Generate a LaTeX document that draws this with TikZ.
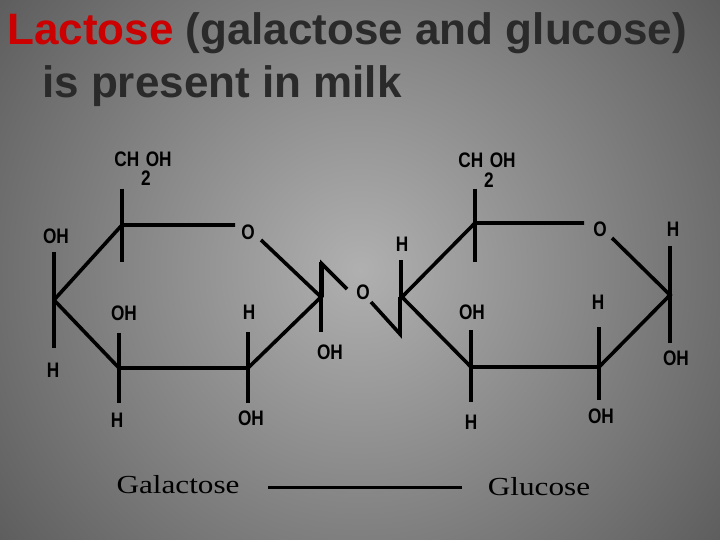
\documentclass[tikz,border=0pt]{standalone}
\usepackage{fontspec}
\setmainfont{Liberation Sans}
\newfontfamily\serf{Liberation Serif}
\definecolor{bgin}{HTML}{B0B0B0}
\definecolor{bgout}{HTML}{5A5A5A}
\definecolor{ttl}{HTML}{2A2A2A}
\definecolor{lred}{HTML}{CC0000}
\begin{document}
\begin{tikzpicture}[x=1pt,y=-1pt,
  bond/.style={line width=3.6pt,line cap=butt,line join=miter},
  lab/.style={font=\bfseries\fontsize{21}{21}\selectfont,inner sep=0pt,xscale=0.82},
  ttlt/.style={font=\bfseries\fontsize{44}{46}\selectfont,text=ttl,inner sep=0pt,anchor=west},
  nm/.style={font=\serf\fontsize{26}{26}\selectfont,inner sep=0pt,xscale=1.2}]
\useasboundingbox (0,0) rectangle (720,540);
\fill[bgout] (0,0) rectangle (720,540);
\shade[inner color=bgin,outer color=bgout] (360,270) circle (470);
\node[ttlt] (t1) at (7,33) {\textcolor{lred}{Lactose} (galactose and glucose)};
\node[ttlt] (t2) at (42,86) {is present in milk};
% galactose ring
\coordinate (a5) at (122,225); \coordinate (aO) at (235,225);
\coordinate (a1) at (321,297); \coordinate (a2) at (248,368);
\coordinate (a3) at (119,368); \coordinate (a4) at (54,300);
\node[lab] (lo) at (248,232) {O};
\draw[bond] (a4) -- (a5) -- (aO);
\draw[bond] (261,240) -- (a1) -- (a2) -- (a3) -- (a4);
\draw[bond] (122,189) -- (122,262);
\draw[bond] (321,262) -- (321,332);
\draw[bond] (248,332) -- (248,403);
\draw[bond] (119,333) -- (119,403);
\draw[bond] (54,252) -- (54,348);
\node[lab] (ach) at (143,159) {CH\hspace{8pt}OH};
\node[lab] (a2s) at (146,178) {2};
\node[lab] (aoh4) at (56,236) {OH};
\node[lab] (ah4) at (53,370) {H};
\node[lab] (aoh3) at (124,313) {OH};
\node[lab] (ah3) at (117,420) {H};
\node[lab] (ah2) at (249,312) {H};
\node[lab] (aoh2) at (251,418) {OH};
\node[lab] (aoh1) at (330,352) {OH};
% glycosidic link
\node[lab] (go) at (363,292) {O};
\draw[bond] (322,297) -- (322,264) -- (347,289);
\draw[bond] (371,302) -- (400,334) -- (400,297);
% glucose ring
\coordinate (b4) at (402,297); \coordinate (b5) at (475,223);
\coordinate (bO) at (584,223); \coordinate (b1) at (670,295);
\coordinate (b2) at (599,367); \coordinate (b3) at (471,367);
\node[lab] (bo) at (600,229) {O};
\draw[bond] (b4) -- (b5) -- (bO);
\draw[bond] (612,238) -- (b1) -- (b2) -- (b3) -- (b4);
\draw[bond] (475,189) -- (475,262);
\draw[bond] (670,246) -- (670,343);
\draw[bond] (599,327) -- (599,400);
\draw[bond] (471,330) -- (471,402);
\draw[bond] (401,260) -- (401,297);
\node[lab] (bch) at (487,160) {CH\hspace{8pt}OH};
\node[lab] (b2s) at (489,180) {2};
\node[lab] (bh4) at (402,244) {H};
\node[lab] (bh1) at (673,229) {H};
\node[lab] (boh1) at (676,358) {OH};
\node[lab] (bh2) at (598,302) {H};
\node[lab] (boh2) at (601,416) {OH};
\node[lab] (boh3) at (472,312) {OH};
\node[lab] (bh3) at (471,422) {H};
% names
\node[nm] (gal) at (178,485) {Galactose};
\node[nm] (glc) at (539,487) {Glucose};
\coordinate (l1) at (268,487); \coordinate (l2) at (462,487);
\draw[line width=3pt] (l1) -- (l2);
\end{tikzpicture}
\end{document}
